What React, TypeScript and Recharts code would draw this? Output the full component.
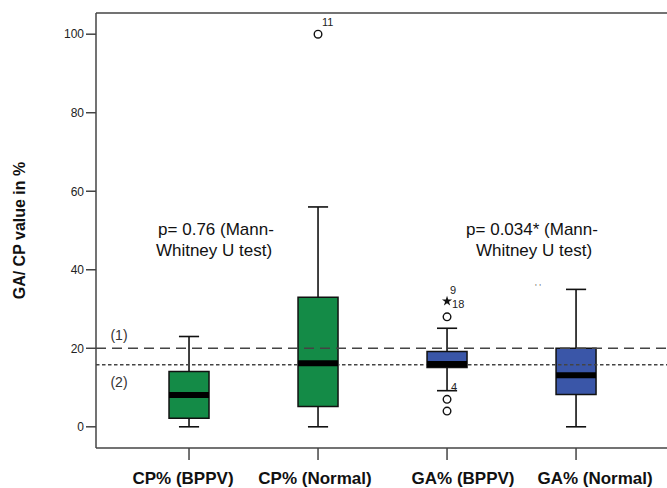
import {
  ComposedChart,
  XAxis,
  YAxis,
  ReferenceArea,
  ReferenceLine,
  Scatter,
  Label,
  Symbols,
} from "recharts";

// groups on the x axis
const groups = ["CP% (BPPV)", "CP% (Normal)", "GA% (BPPV)", "GA% (Normal)"];
const groupPos = [1, 2, 3, 4];
const boxColors = ["#148b47", "#148b47", "#3a56a8", "#3a56a8"];

// five-number summaries
const whiskerLow = [0, 0, 9.2, 0];
const quartile1 = [2.2, 5.2, 15.1, 8.2];
const median = [8.1, 16.2, 16, 13.1];
const quartile3 = [14.1, 33, 19.2, 20];
const whiskerHigh = [23, 56, 25.1, 35];

// outliers (circles) and extremes (stars), by group index
const outlierGroup = [1, 2, 2, 2];
const outlierValue = [100, 28, 7, 4];
const outlierCase = ["11", "", "4", ""];

const extremeGroup = [2];
const extremeValue = [32];
const extremeCases = [["9", "18"]];

// cut-off lines
const cutoffValues = [20, 15.8];
const cutoffNames = ["(1)", "(2)"];

const yTicks = [0, 20, 40, 60, 80, 100];

const FONT = "Arial, 'Liberation Sans', sans-serif";
const Y_DOMAIN: [number, number] = [-5.4, 105.4];
const X_DOMAIN: [number, number] = [0.279, 4.705];
const BOX_HALF = 0.155;
const CAP_HALF = 0.078;
const tickShift = [-6, -3, 16, 19];

const OutlierShape = (props: any) => {
  const { cx, cy, payload } = props;
  return (
    <g>
      <circle cx={cx} cy={cy} r={3.8} fill="#fff" stroke="#111" strokeWidth={1.4} />
      {payload.label ? (
        <text x={cx + 4} y={cy - 8} fontSize={11} fontFamily={FONT} fill="#222">
          {payload.label}
        </text>
      ) : null}
    </g>
  );
};

const ExtremeShape = (props: any) => {
  const { cx, cy, payload } = props;
  const cases: string[] = payload.cases;
  return (
    <g>
      <Symbols cx={cx} cy={cy} type="star" size={32} fill="#111" />
      <text x={cx + 3} y={cy - 7} fontSize={11} fontFamily={FONT} fill="#222">
        {cases[0]}
      </text>
      <text x={cx + 5} y={cy + 7} fontSize={11} fontFamily={FONT} fill="#222">
        {cases[1]}
      </text>
    </g>
  );
};

const GroupTick = (props: any) => {
  const { x, y, payload } = props;
  const i = groupPos.indexOf(payload.value);
  return (
    <text
      x={x + tickShift[i]}
      y={y + 22}
      textAnchor="middle"
      fontSize={17}
      fontWeight="bold"
      fontFamily={FONT}
      fill="#111"
    >
      {groups[i]}
    </text>
  );
};

const App = () => {
  const outliers = outlierValue.map((v, i) => ({
    x: groupPos[outlierGroup[i]],
    y: v,
    label: outlierCase[i],
  }));
  const extremes = extremeValue.map((v, i) => ({
    x: groupPos[extremeGroup[i]],
    y: v,
    cases: extremeCases[i],
  }));

  return (
    <div style={{ position: "absolute", left: 0, top: 0, width: 667, height: 488 }}>
      <ComposedChart
        width={667}
        height={488}
        margin={{ top: 13, right: 0, bottom: 0, left: 0 }}
      >
        <XAxis
          dataKey="x"
          type="number"
          domain={X_DOMAIN}
          allowDataOverflow
          ticks={groupPos}
          interval={0}
          height={40}
          tickSize={12}
          tick={<GroupTick />}
          tickLine={{ stroke: "#444", strokeWidth: 1.5 }}
          axisLine={{ stroke: "#444", strokeWidth: 1.5 }}
        />
        <YAxis
          type="number"
          domain={Y_DOMAIN}
          allowDataOverflow
          ticks={yTicks}
          width={96}
          tickSize={10}
          tick={{ fontSize: 12, fill: "#222", fontFamily: FONT }}
          tickLine={{ stroke: "#444", strokeWidth: 1.5 }}
          axisLine={{ stroke: "#444", strokeWidth: 1.5 }}
        >
          <Label
            content={(p: any) => {
              const vb = p.viewBox;
              const cx = vb.x + 19;
              const cy = vb.y + vb.height / 2;
              return (
                <text
                  x={cx}
                  y={cy}
                  transform={`rotate(-90 ${cx} ${cy})`}
                  textAnchor="middle"
                  dominantBaseline="central"
                  fontSize={16}
                  fontWeight="bold"
                  fontFamily={FONT}
                  fill="#111"
                >
                  GA/ CP value in %
                </text>
              );
            }}
          />
        </YAxis>

        {/* top border of the frame */}
        <ReferenceLine y={Y_DOMAIN[1]} stroke="#444" strokeWidth={1.5} />

        {/* whiskers */}
        {groupPos.map((p, i) => (
          <ReferenceLine
            key={"wl" + i}
            segment={[
              { x: p, y: whiskerLow[i] },
              { x: p, y: quartile1[i] },
            ]}
            stroke="#111"
            strokeWidth={1.6}
          />
        ))}
        {groupPos.map((p, i) => (
          <ReferenceLine
            key={"wh" + i}
            segment={[
              { x: p, y: quartile3[i] },
              { x: p, y: whiskerHigh[i] },
            ]}
            stroke="#111"
            strokeWidth={1.6}
          />
        ))}
        {groupPos.map((p, i) => (
          <ReferenceLine
            key={"cl" + i}
            segment={[
              { x: p - CAP_HALF, y: whiskerLow[i] },
              { x: p + CAP_HALF, y: whiskerLow[i] },
            ]}
            stroke="#111"
            strokeWidth={1.6}
          />
        ))}
        {groupPos.map((p, i) => (
          <ReferenceLine
            key={"ch" + i}
            segment={[
              { x: p - CAP_HALF, y: whiskerHigh[i] },
              { x: p + CAP_HALF, y: whiskerHigh[i] },
            ]}
            stroke="#111"
            strokeWidth={1.6}
          />
        ))}

        {/* boxes */}
        {groupPos.map((p, i) => (
          <ReferenceArea
            key={"box" + i}
            x1={p - BOX_HALF}
            x2={p + BOX_HALF}
            y1={quartile1[i]}
            y2={quartile3[i]}
            fill={boxColors[i]}
            fillOpacity={1}
            stroke="#111"
            strokeWidth={1.5}
          />
        ))}

        {/* cut-off lines */}
        {cutoffValues.map((v, i) => (
          <ReferenceLine
            key={"cut" + i}
            y={v}
            stroke="#444"
            strokeWidth={1.5}
            strokeDasharray={i === 0 ? "10 6" : "3.5 2.5"}
            label={(p: any) => {
              const vb = p.viewBox;
              return (
                <text
                  x={vb.x + 23}
                  y={vb.y + (i === 0 ? -13 : 17)}
                  textAnchor="middle"
                  dominantBaseline="central"
                  fontSize={14}
                  fontFamily={FONT}
                  fill="#333"
                >
                  {cutoffNames[i]}
                </text>
              );
            }}
          />
        ))}

        {/* medians */}
        {groupPos.map((p, i) => (
          <ReferenceLine
            key={"med" + i}
            segment={[
              { x: p - BOX_HALF, y: median[i] },
              { x: p + BOX_HALF, y: median[i] },
            ]}
            stroke="#000"
            strokeWidth={6}
          />
        ))}

        <Scatter
          data={outliers}
          dataKey="y"
          shape={<OutlierShape />}
          isAnimationActive={false}
        />
        <Scatter
          data={extremes}
          dataKey="y"
          shape={<ExtremeShape />}
          isAnimationActive={false}
        />
      </ComposedChart>

      <svg
        width={667}
        height={488}
        style={{ position: "absolute", left: 0, top: 0, pointerEvents: "none" }}
      >
        <g fontFamily={FONT} fontSize={17} fill="#111" textAnchor="middle">
          <text x={216} y={235}>p= 0.76 (Mann-</text>
          <text x={214} y={256}>Whitney U test)</text>
          <text x={532} y={235}>p= 0.034* (Mann-</text>
          <text x={534} y={256}>Whitney U test)</text>
        </g>
        <text x={538} y={290} fontFamily={FONT} fontSize={9} fill="#777" textAnchor="middle">
          ' '
        </text>
      </svg>
    </div>
  );
};

export default App;
